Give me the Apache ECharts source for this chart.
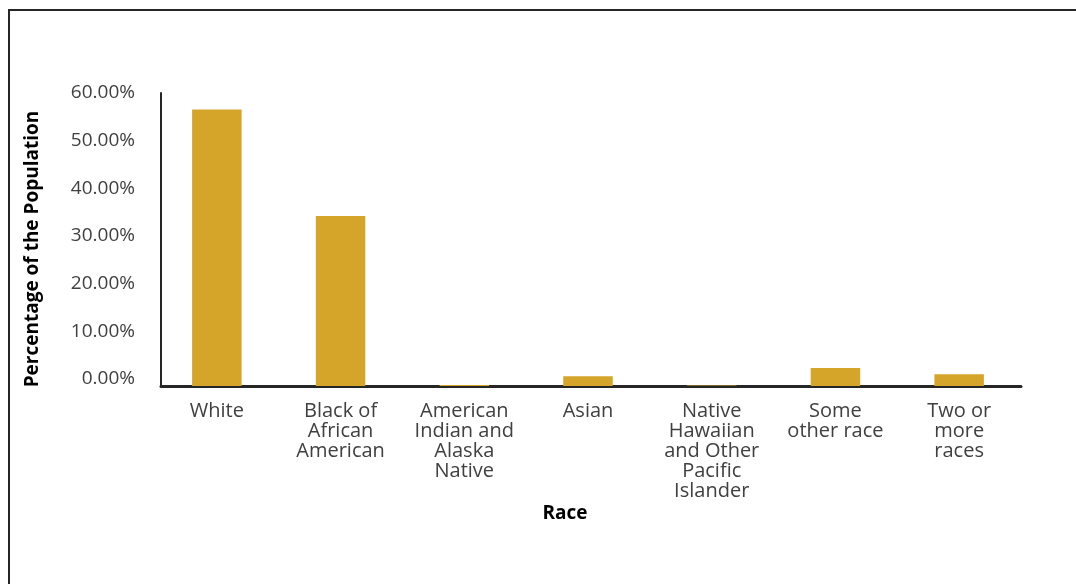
<!DOCTYPE html>
<html>
<head>
<meta charset="utf-8">
<script src="https://cdn.jsdelivr.net/npm/echarts@6/dist/echarts.min.js"></script>
<style>
html,body{margin:0;padding:0;background:#fff;}
#chart{width:1076px;height:584px;}
</style>
</head>
<body>
<div id="chart"></div>
<script>
const categories = [
  "White",
  "Black of\nAfrican\nAmerican",
  "American\nIndian and\nAlaska\nNative",
  "Asian",
  "Native\nHawaiian\nand Other\nPacific\nIslander",
  "Some\nother race",
  "Two or\nmore\nraces"
];
const percentValues = [56.6, 34.8, 0.2, 2.0, 0.1, 3.7, 2.4];
const yTicks = [0, 10, 20, 30, 40, 50, 60];
const yAxisTitle = "Percentage of the Population";
const xAxisTitle = "Race";

const FONT = '"Open Sans", "DejaVu Sans", sans-serif';
const AXIS_COLOR = '#262626';
const yMin = yTicks[0], yMax = yTicks[yTicks.length - 1];

const chart = echarts.init(document.getElementById('chart'), null, {renderer: 'canvas'});
chart.setOption({
  backgroundColor: '#ffffff',
  animation: false,
  grid: [
    {left: 155, right: 55, top: 93, bottom: 198},   // bars
    {left: 161, right: 55, top: 93, bottom: 198},   // baseline
    {left: 161, right: 55, top: 93, bottom: 205}    // y tick labels
  ],
  xAxis: [
    {
      gridIndex: 0,
      type: 'category',
      data: categories,
      axisLine: {show: false},
      axisTick: {show: false},
      axisLabel: {
        interval: 0,
        color: '#404040',
        fontFamily: FONT,
        fontSize: 20,
        lineHeight: 20,
        margin: 15,
        align: 'center'
      }
    },
    {
      gridIndex: 1, type: 'value', min: 0, max: 1,
      axisLine: {show: true, lineStyle: {color: AXIS_COLOR, width: 3}},
      axisTick: {show: false}, axisLabel: {show: false}, splitLine: {show: false}
    },
    {
      gridIndex: 2, type: 'value', min: 0, max: 1, show: false
    }
  ],
  yAxis: [
    {
      gridIndex: 0,
      type: 'value', min: yMin, max: yMax, interval: 10,
      offset: -6,
      axisLine: {show: true, lineStyle: {color: AXIS_COLOR, width: 2}},
      axisTick: {show: false}, splitLine: {show: false}, axisLabel: {show: false}
    },
    {
      gridIndex: 1, type: 'value', min: yMin, max: yMax, show: false
    },
    {
      gridIndex: 2,
      type: 'value', min: yMin, max: yMax, interval: 10,
      axisLine: {show: false}, axisTick: {show: false}, splitLine: {show: false},
      axisLabel: {
        color: '#404040',
        fontFamily: FONT,
        fontSize: 19,
        margin: 26,
        formatter: v => v.toFixed(2) + '%'
      }
    }
  ],
  series: [{
    type: 'bar',
    xAxisIndex: 0,
    yAxisIndex: 0,
    data: percentValues,
    barWidth: '40%',
    itemStyle: {color: '#D5A52A'}
  }],
  graphic: [
    {
      type: 'rect',
      shape: {x: 9, y: 10, width: 1300, height: 1000},
      style: {fill: 'none', stroke: AXIS_COLOR, lineWidth: 2},
      silent: true
    },
    {
      type: 'text',
      x: 33, y: 249,
      rotation: Math.PI / 2,
      style: {
        text: yAxisTitle,
        fill: '#000000',
        font: 'bold 19px ' + FONT,
        align: 'center',
        verticalAlign: 'middle'
      }
    },
    {
      type: 'text',
      x: 565, y: 514,
      style: {
        text: xAxisTitle,
        fill: '#000000',
        font: 'bold 19px ' + FONT,
        align: 'center',
        verticalAlign: 'middle'
      }
    }
  ]
});
</script>
</body>
</html>
